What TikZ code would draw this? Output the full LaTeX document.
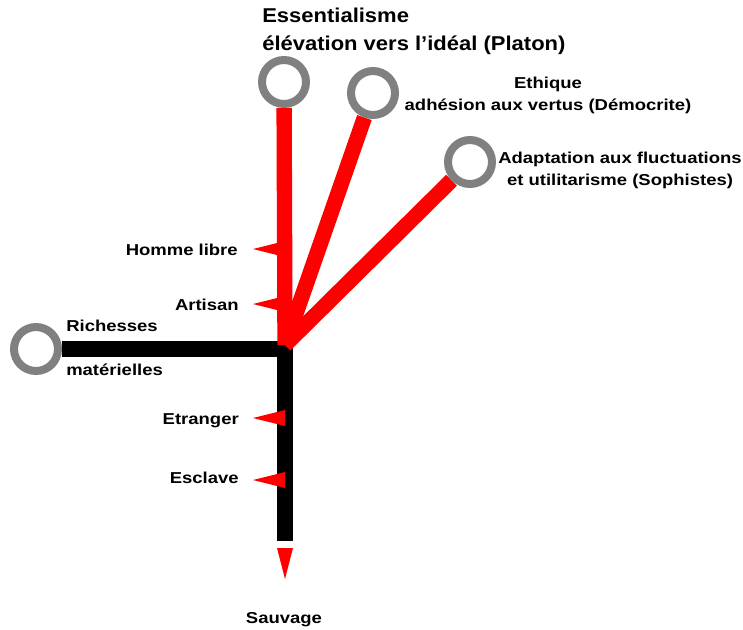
\documentclass[tikz,border=0pt]{standalone}
\usepackage{fontspec}
\usepackage{tikz}
\usetikzlibrary{
    positioning
}
\newfontfamily\etiquetafont[FakeStretch=1.17]{Liberation Sans}
\newfontfamily\titulofont[FakeStretch=1.1]{Liberation Sans}
\definecolor{gris}{RGB}{128,128,128}
\pgfdeclarelayer{fondo}
\pgfsetlayers{fondo,main}
\tikzset{
    polo/.style={
        circle,
        draw=gris,
        fill=white,
        line width=6pt,
        minimum size=33pt,
        inner sep=0pt
    },
    rama/.style={
        draw=red,
        line width=11.5pt
    },
    eje/.style={
        draw=black,
        line width=12pt,
        line join=miter
    },
    etiqueta/.style={
        font=\etiquetafont\bfseries\fontsize{11.85pt}{16pt}\selectfont,
        inner sep=0pt
    },
    titulo/.style={
        font=\titulofont\bfseries\fontsize{15pt}{21pt}\selectfont,
        inner sep=0pt
    }
}

\begin{document}
\begin{tikzpicture}[
    x=0.75pt,
    y=-0.75pt
]
    \useasboundingbox (0,0) rectangle (743,629);

    % Polos
    \node[polo] (platon)    at (284,82)  {};
    \node[polo] (democrito) at (373,93)  {};
    \node[polo] (sofistas)  at (470,162) {};
    \node[polo] (riqueza)   at (36,349)  {};

    \coordinate (centro)  at (285,345);
    \coordinate (esquina) at (285,349);
    \coordinate (cola)    at (285,541);

    % Ramas
    \begin{pgfonlayer}{fondo}
        \draw[eje] (riqueza) -- (esquina) -- (cola);
        \draw[rama] (centro) -- (platon);
        \draw[rama] (centro) -- (democrito);
        \draw[rama] (centro) -- (sofistas);
    \end{pgfonlayer}

    % Banderas
    \foreach \y in {249,304,418,480}
        \fill[red] (285,\y-8) -- (253,\y) -- (285,\y+8) -- cycle;
    \fill[red] (cola) ++(-8,7) -- ++(16,0) -- ++(-8,31) -- cycle;

    % Textos
    \node[titulo, align=left, anchor=base west] (essentialisme) at (262,50)
        {Essentialisme\\élévation vers l’idéal (Platon)};
    \node[etiqueta, align=center, anchor=base] (ethique) at (548,110)
        {Ethique\\adhésion aux vertus (Démocrite)};
    \node[etiqueta, align=center, anchor=base] (adaptation) at (620,185)
        {Adaptation aux fluctuations\\et utilitarisme (Sophistes)};
    \node[etiqueta, align=left, anchor=base west] (richesses) at (66,375)
        {Richesses\\[16.5pt]matérielles};
    \node[etiqueta, anchor=base east] (libre)    at (238,255) {Homme libre};
    \node[etiqueta, anchor=base east] (artisan)  at (239,310) {Artisan};
    \node[etiqueta, anchor=base east] (etranger) at (239,424) {Etranger};
    \node[etiqueta, anchor=base east] (esclave)  at (239,483) {Esclave};
    \node[etiqueta, anchor=base] (sauvage) at (284,623) {Sauvage};

\end{tikzpicture}
\end{document}
